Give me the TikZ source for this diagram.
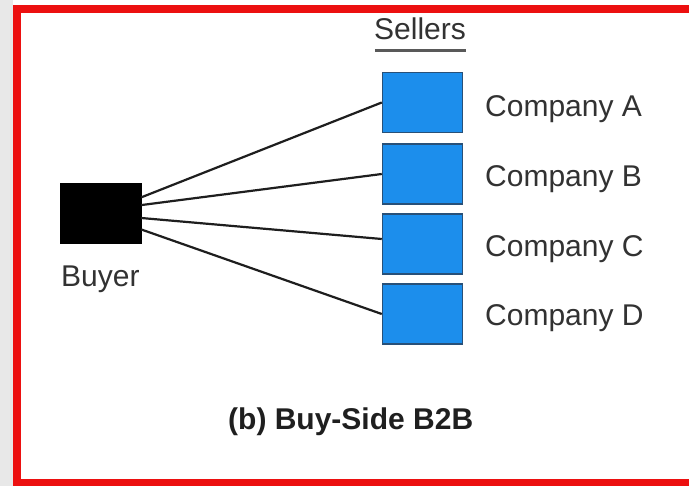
\documentclass[tikz,border=0pt]{standalone}
\usepackage{fontspec}
\setmainfont{Liberation Sans}
\definecolor{framered}{RGB}{236,16,16}
\definecolor{boxblue}{RGB}{28,142,236}
\definecolor{boxedge}{RGB}{40,80,120}
\definecolor{txt}{RGB}{50,50,50}
\definecolor{wire}{RGB}{30,30,30}
\tikzset{
  seller/.style={draw=boxedge, line width=1.5pt, fill=boxblue, minimum width=80pt, minimum height=60pt, inner sep=0pt},
  buyerbox/.style={draw=black, fill=black, minimum width=81pt, minimum height=60pt, inner sep=0pt},
  lbl/.style={text=txt, inner sep=0pt, font=\fontsize{30}{36}\selectfont},
  wireline/.style={draw=wire, line width=2.2pt},
}
\begin{document}
\begin{tikzpicture}[x=1pt, y=-1pt]
\useasboundingbox (0,0) rectangle (689,486);
% background
\fill[white] (0,0) rectangle (689,486);
\fill[gray!18] (0,0) rectangle (13,486);
% frame (open on the right)
\draw[framered, line width=8pt] (17,486) -- (17,9) -- (689,9);
\draw[framered, line width=7pt] (13,483) -- (689,483);

% nodes
\node[buyerbox] (buyer) at (100.5,213) {};
\node[seller] (A) at (422.5,102.5) {};
\node[seller] (B) at (422.5,174) {};
\node[seller] (C) at (422.5,244) {};
\node[seller] (D) at (422.5,314) {};

% labels
\node[lbl, anchor=base] (sellers) at (420,40) {Sellers};
\draw[gray!70!black, line width=2.5pt] (sellers.south west) ++(1,10) coordinate (ul1) -- (sellers.south east |- ul1) coordinate (ul2);
\node[lbl, anchor=base west] (la) at (485,117) {Company A};
\node[lbl, anchor=base west] (lb) at (485,187) {Company B};
\node[lbl, anchor=base west] (lc) at (485,257) {Company C};
\node[lbl, anchor=base west] (ld) at (485,326) {Company D};
\node[lbl, anchor=base west] (lbuyer) at (61,287) {Buyer};
\node[lbl, anchor=base west, text=black!88, font=\fontsize{30}{36}\selectfont\bfseries] (title) at (228,430) {(b) Buy-Side B2B};

% connectors
\draw[wireline] (buyer.21) -- (A.west);
\draw[wireline] (buyer.11) -- (B.west);
\draw[wireline] (buyer.-7) -- (C.173);
\draw[wireline] (buyer.-22) -- (D.west);
\end{tikzpicture}
\end{document}
